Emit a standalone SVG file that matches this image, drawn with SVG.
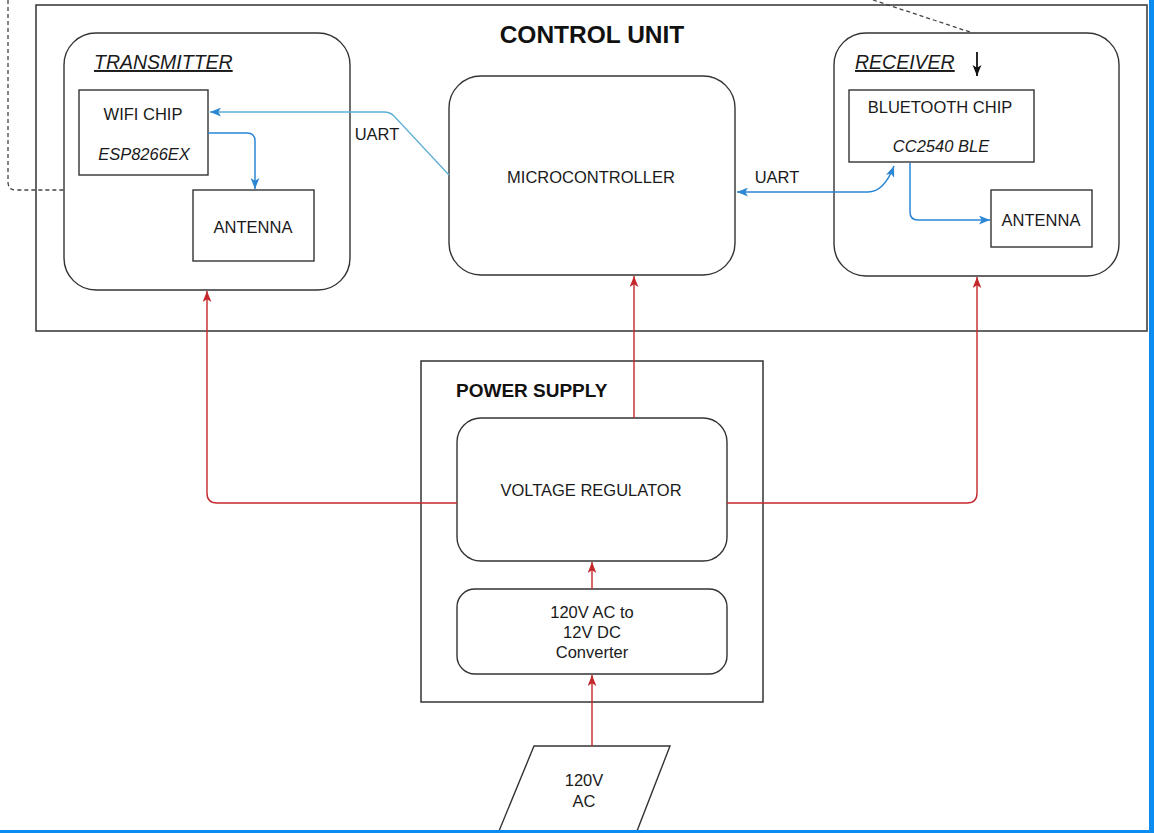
<svg xmlns="http://www.w3.org/2000/svg" width="1154" height="833" viewBox="0 0 1154 833">
<defs>
<style>
.box{fill:#fff;stroke:#333;stroke-width:1.4}
.frame{fill:none;stroke:#333;stroke-width:1.5}
.t{font-family:"Liberation Sans",Arial,sans-serif;font-size:16.5px;fill:#1a1a1a;text-anchor:middle}
.ti{font-style:italic}
.hd{font-family:"Liberation Sans",Arial,sans-serif;font-style:italic;font-size:19.5px;fill:#1a1a1a;text-decoration:underline}
.b{font-family:"Liberation Sans",Arial,sans-serif;font-weight:bold;fill:#111}
.red{fill:none;stroke:#c4282c;stroke-width:1.4}
.blue{fill:none;stroke:#2b86d3;stroke-width:1.5}
.teal{fill:none;stroke:#5eaed6;stroke-width:1.3}
.dash{fill:none;stroke:#444;stroke-width:1.3;stroke-dasharray:4 3}
</style>
<marker id="ar" viewBox="0 0 10 8" refX="10" refY="4" markerWidth="11" markerHeight="9" markerUnits="userSpaceOnUse" orient="auto-start-reverse"><path d="M0,0 L10,4 L0,8 L2.5,4 Z" fill="#c4282c"/></marker>
<marker id="ab" viewBox="0 0 10 8" refX="10" refY="4" markerWidth="11" markerHeight="9" markerUnits="userSpaceOnUse" orient="auto-start-reverse"><path d="M0,0 L10,4 L0,8 L2.5,4 Z" fill="#2b86d3"/></marker>
<marker id="ak" viewBox="0 0 10 8" refX="10" refY="4" markerWidth="11" markerHeight="10" markerUnits="userSpaceOnUse" orient="auto"><path d="M0,0 L10,4 L0,8 L2.5,4 Z" fill="#111"/></marker>
</defs>
<rect x="0" y="0" width="1154" height="833" fill="#fff"/>

<g id="control-unit">
<rect class="frame" x="36" y="5" width="1111" height="326"/>
<text class="b" x="592" y="43" font-size="24.5" text-anchor="middle">CONTROL UNIT</text>
</g>

<g id="transmitter">
<rect class="box" x="64" y="33" width="286" height="257" rx="32"/>
<text class="hd" x="94" y="69">TRANSMITTER</text>
</g>
<g id="wifi-chip">
<rect class="box" x="79" y="90" width="129" height="85"/>
<text class="t" x="143" y="120">WIFI CHIP</text>
<text class="t ti" x="144" y="160">ESP8266EX</text>
</g>
<g id="antenna-tx">
<rect class="box" x="193" y="190" width="121" height="71"/>
<text class="t" x="253" y="233">ANTENNA</text>
</g>

<g id="microcontroller">
<rect class="box" x="449" y="76" width="286" height="199" rx="32"/>
<text class="t" x="591" y="183">MICROCONTROLLER</text>
</g>

<g id="receiver">
<rect class="box" x="834" y="33" width="285" height="243" rx="32"/>
<text class="hd" x="855" y="69">RECEIVER</text>
<line x1="977" y1="52" x2="977" y2="76" stroke="#111" stroke-width="1.8" marker-end="url(#ak)"/>
</g>
<g id="bluetooth-chip">
<rect class="box" x="849" y="90" width="185" height="72"/>
<text class="t" x="940" y="113">BLUETOOTH CHIP</text>
<text class="t ti" x="941" y="152">CC2540 BLE</text>
</g>
<g id="antenna-rx">
<rect class="box" x="991" y="190" width="101" height="57"/>
<text class="t" x="1041" y="226">ANTENNA</text>
</g>

<g id="power-supply">
<rect class="frame" x="421" y="361" width="342" height="341"/>
<text class="b" x="456" y="397" font-size="19">POWER SUPPLY</text>
</g>
<g id="voltage-regulator">
<rect class="box" x="457" y="418" width="270" height="143" rx="24"/>
<text class="t" x="591" y="496">VOLTAGE REGULATOR</text>
</g>
<g id="converter">
<rect class="box" x="457" y="589" width="270" height="85" rx="18"/>
<text class="t" x="592" y="618" font-size="16">120V AC to</text>
<text class="t" x="592" y="638" font-size="16">12V DC</text>
<text class="t" x="592" y="658" font-size="16">Converter</text>
</g>
<g id="ac-source">
<polygon class="box" points="534,746 670,746 637,831 499,831"/>
<text class="t" x="584" y="786" font-size="17.5">120V</text>
<text class="t" x="584" y="807" font-size="17.5">AC</text>
</g>

<g id="connectors">
<path class="dash" d="M8,0 L8,182 Q8,190 16,190 L64,190"/>
<path class="dash" d="M873,0 L973,33"/>
<path class="teal" d="M449,175 L394,116 Q390,112 384,112 L210,112" marker-end="url(#ab)"/>
<text class="t" x="377" y="140">UART</text>
<path class="blue" d="M737,192 L868,192 Q884,192 894,166" marker-start="url(#ab)" marker-end="url(#ab)"/>
<text class="t" x="777" y="183">UART</text>
<path class="blue" d="M208,133 L247,133 Q255,133 255,141 L255,189" marker-end="url(#ab)"/>
<path class="blue" d="M910,163 L910,212 Q910,220 918,220 L990,220" marker-end="url(#ab)"/>
<path class="red" d="M457,503 L217,503 Q207,503 207,493 L207,291" marker-end="url(#ar)"/>
<path class="red" d="M727,503 L967,503 Q977,503 977,493 L977,277" marker-end="url(#ar)"/>
<path class="red" d="M634,418 L634,276" marker-end="url(#ar)"/>
<path class="red" d="M592,589 L592,562" marker-end="url(#ar)"/>
<path class="red" d="M592,746 L592,675" marker-end="url(#ar)"/>
</g>

<g id="frame-edge">
<rect x="1149" y="0" width="5" height="833" fill="#0a8cf0"/>
<rect x="0" y="830" width="1154" height="3" fill="#0a8cf0"/>
</g>
</svg>
